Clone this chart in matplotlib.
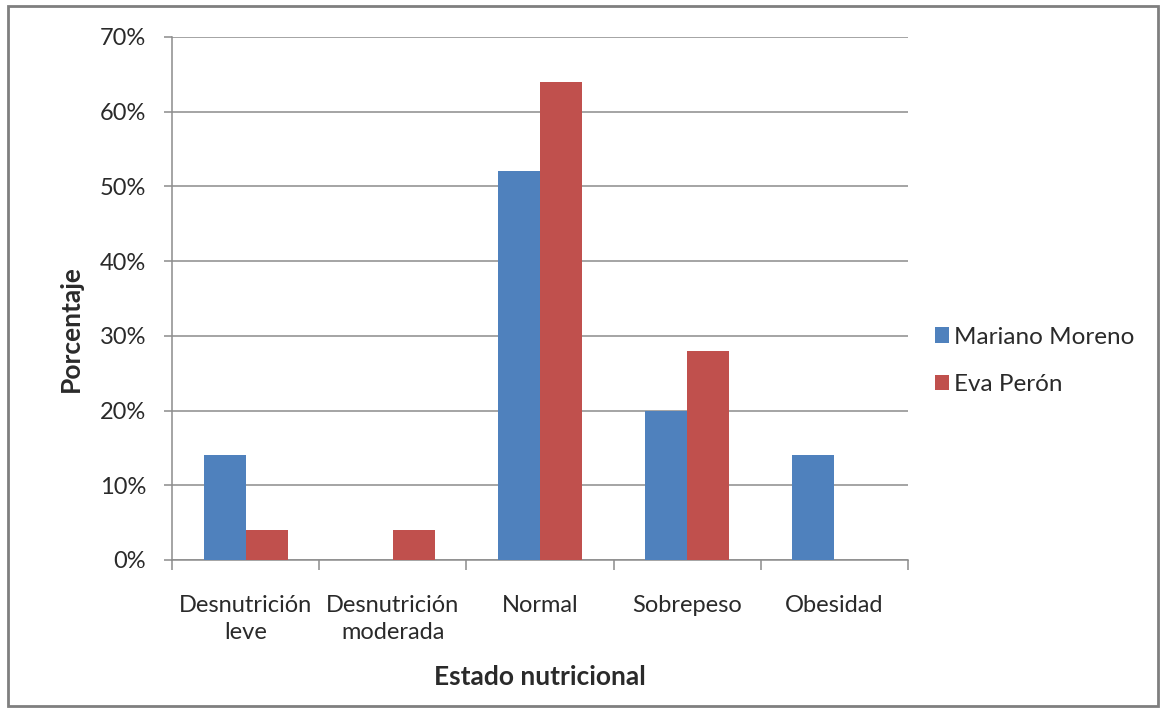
import matplotlib
matplotlib.use("Agg")
import matplotlib.pyplot as plt
import numpy as np
from matplotlib.patches import Rectangle

categories = ["Desnutrición\nleve", "Desnutrición\nmoderada", "Normal", "Sobrepeso", "Obesidad"]
mariano_moreno = [14, 0, 52, 20, 14]
eva_peron = [4, 4, 64, 28, 0]
series_names = ["Mariano Moreno", "Eva Perón"]

plt.rcParams['font.family'] = ['Lato', 'DejaVu Sans']
grid_col = "#8c8c8c"
text_col = "#2a2a2a"

fig = plt.figure(figsize=(11.66, 7.11), dpi=100)
ax = fig.add_axes([0.1475, 0.2124, 0.6312, 0.7356])

x = np.arange(len(categories))
w = 0.285
ax.bar(x - w / 2, mariano_moreno, w, color="#4f81bd", label=series_names[0], zorder=3)
ax.bar(x + w / 2, eva_peron, w, color="#c0504d", label=series_names[1], zorder=3)

ax.set_xlim(-0.5, len(categories) - 0.5)
ax.set_ylim(0, 70)
ax.set_yticks(range(0, 71, 10))
ax.set_yticklabels([f"{v}%" for v in range(0, 71, 10)])
ax.yaxis.grid(True, color=grid_col, lw=1.1, zorder=0)

# category ticks sit on the boundaries, labels in the middle
ax.set_xticks(np.arange(-0.5, len(categories), 1.0))
ax.set_xticklabels([])
ax.set_xticks(x, minor=True)
ax.set_xticklabels(categories, minor=True, fontsize=17, color=text_col, linespacing=1.35)
ax.tick_params(axis="x", which="minor", length=0, pad=25)
ax.tick_params(axis="x", which="major", length=7, color=grid_col, width=1.1)
ax.tick_params(axis="y", length=6, color=grid_col, width=1.1, labelsize=17, labelcolor=text_col, pad=12.5)

for s in ["top", "right"]:
    ax.spines[s].set_visible(False)
for s in ["left", "bottom"]:
    ax.spines[s].set_color(grid_col)
    ax.spines[s].set_linewidth(1.1)

ax.set_ylabel("Porcentaje", fontsize=19, fontweight="bold", color=text_col)
ax.yaxis.set_label_coords(-0.121, 0.4417)
ax.set_xlabel("Estado nutricional", fontsize=19, fontweight="bold", color=text_col, labelpad=16)

leg = fig.legend(loc="center left", bbox_to_anchor=(0.783, 0.4923), frameon=False,
                 fontsize=17.5, handlelength=0.6, handleheight=0.6, handletextpad=0.2,
                 labelspacing=1.1)
for t in leg.get_texts():
    t.set_color(text_col)

fig.patches.append(Rectangle((0.007, 0.007), 0.986, 0.984, transform=fig.transFigure,
                             fill=False, edgecolor="#7f7f7f", lw=2))

fig.savefig("out.png", dpi=100, facecolor="white")
